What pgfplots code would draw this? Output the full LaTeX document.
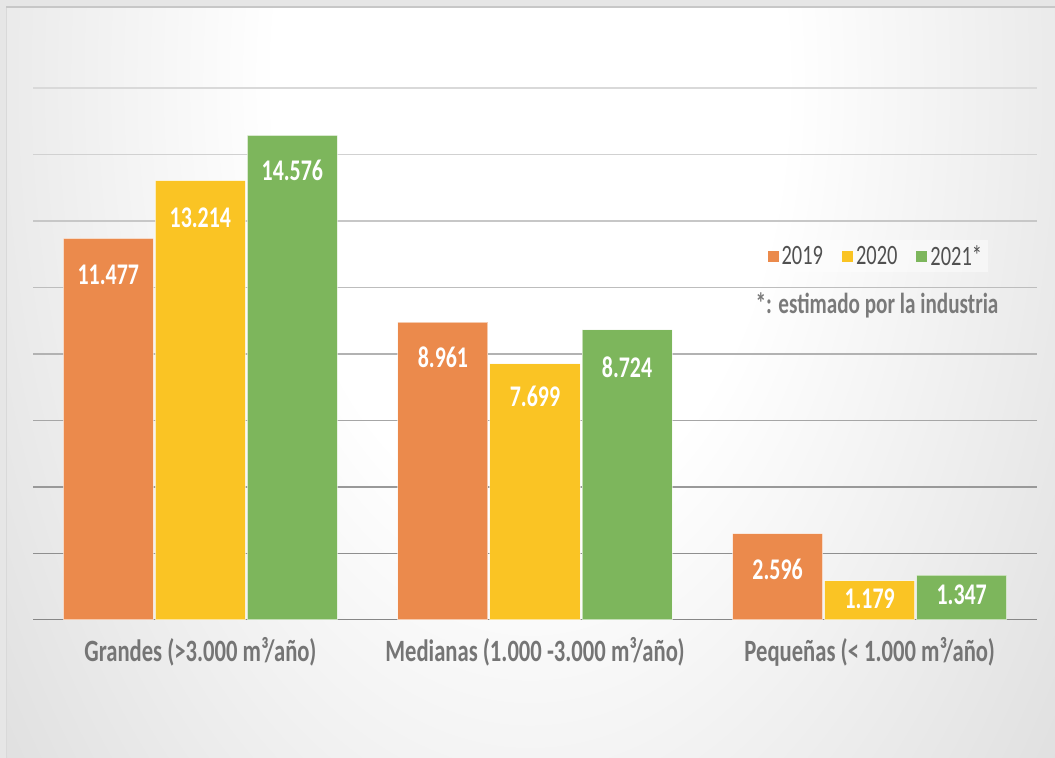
\documentclass[border=0pt]{standalone}
\usepackage{fontspec}
\setmainfont{Carlito}[FakeStretch=0.73]
\usepackage{pgfplots}
\usepackage{pgfplotstable}
\pgfplotsset{compat=1.18}
\definecolor{cOr}{HTML}{EB8A4C}
\definecolor{cYe}{HTML}{FAC424}
\definecolor{cGr}{HTML}{7DB65C}
\definecolor{outerbg}{HTML}{E6E6E6}
\definecolor{edgegray}{HTML}{C2C2C2}
\definecolor{catgray}{HTML}{757575}
\definecolor{leggray}{HTML}{505050}
\definecolor{notegray}{HTML}{7A7A7A}
\pgfdeclareradialshading{chartbg}{\pgfpoint{0bp}{0bp}}{color(0bp)=(white); color(12bp)=(white); color(50bp)=(edgegray); color(75bp)=(edgegray)}

% x = category position (0,1,2) plus the bar's offset within its group
\pgfplotstableread{
x y lab s
-0.275 11477 11.477 36
0.725 8961 8.961 35
1.725 2596 2.596 36
}\dataA
\pgfplotstableread{
x y lab s
0 13214 13.214 37
1 7699 7.699 32
2 1179 1.179 18
}\dataB
\pgfplotstableread{
x y lab s
0.275 14576 14.576 35
1.275 8724 8.724 37
2.275 1347 1.347 20
}\dataC

\pgfplotsset{
  sqlegend/.style={legend image code/.code={\fill[##1, fill opacity=1, draw=none] (0bp,-5.5bp) rectangle (11bp,5.5bp);}},
  mybar/.style={ybar, bar width=0.269, bar shift=0, fill=#1, draw=white, draw opacity=0.55, line width=1bp,
    sqlegend,
    nodes near coords, point meta=explicit symbolic,
    visualization depends on={\thisrow{s} \as \lshift},
    every node near coord/.append style={anchor=center, yshift={-\lshift bp}, text=white,
      font=\bfseries\fontsize{30bp}{36bp}\selectfont}},
}

\begin{document}
\begin{tikzpicture}
\begin{scope}[x=1bp,y=1bp]
\useasboundingbox (0,0) rectangle (1055,758);
\fill[outerbg] (0,0) rectangle (1055,758);
\begin{scope}
\clip (6,0) rectangle (1055,750);
\shade[shading=chartbg] (0,-222) rectangle (1060,1578);
\end{scope}
\draw[color=black!22, line width=2] (6,750.5)--(1055,750.5);
\draw[color=black!15, line width=1] (6.5,0)--(6.5,750);
\end{scope}
\begin{axis}[
  at={(33bp,138bp)}, anchor=south west,
  scale only axis, width=1004bp, height=532bp,
  xmin=-0.5, xmax=2.5, ymin=0, ymax=16000,
  axis line style={draw=none},
  tick style={draw=none},
  ytick=\empty,
  xtick={0,1,2},
  xticklabels={Grandes (>3.000 m³/año), Medianas (1.000 -3.000 m³/año), Pequeñas (< 1.000 m³/año)},
  x tick label style={font=\bfseries\fontsize{31bp}{36bp}\selectfont, text=catgray, yshift=-14bp},
  legend style={at={(0.84,0.684)}, anchor=center, legend columns=3,
    fill=white, fill opacity=0.45, text opacity=1, draw=none,
    text=leggray, font=\fontsize{28bp}{32bp}\selectfont,
    nodes={inner sep=3bp},
    /tikz/every even column/.append style={column sep=16bp}},
]
\addplot[forget plot, color=black!44, line width=1.5bp] coordinates {(-0.5,2000) (2.5,2000)};
\addplot[forget plot, color=black!40, line width=1.5bp] coordinates {(-0.5,4000) (2.5,4000)};
\addplot[forget plot, color=black!35, line width=1.5bp] coordinates {(-0.5,6000) (2.5,6000)};
\addplot[forget plot, color=black!30, line width=1.5bp] coordinates {(-0.5,8000) (2.5,8000)};
\addplot[forget plot, color=black!26, line width=1.5bp] coordinates {(-0.5,10000) (2.5,10000)};
\addplot[forget plot, color=black!22, line width=1.5bp] coordinates {(-0.5,12000) (2.5,12000)};
\addplot[forget plot, color=black!18, line width=1.5bp] coordinates {(-0.5,14000) (2.5,14000)};
\addplot[forget plot, color=black!15, line width=1.5bp] coordinates {(-0.5,16000) (2.5,16000)};
\addplot[forget plot, color=black!47, line width=2.5bp] coordinates {(-0.5,0) (2.5,0)};

\addplot[mybar=cOr] table[x=x, y=y, meta=lab] {\dataA};
\addlegendentry{2019}
\addplot[mybar=cYe] table[x=x, y=y, meta=lab] {\dataB};
\addlegendentry{2020}
\addplot[mybar=cGr] table[x=x, y=y, meta=lab] {\dataC};
\addlegendentry{2021*}
\end{axis}
\begin{scope}[x=1bp,y=1bp]
\node[font=\bfseries\fontsize{29bp}{34bp}\selectfont, text=notegray, anchor=center] at (877,453) {*: estimado por la industria};
\end{scope}
\end{tikzpicture}
\end{document}
